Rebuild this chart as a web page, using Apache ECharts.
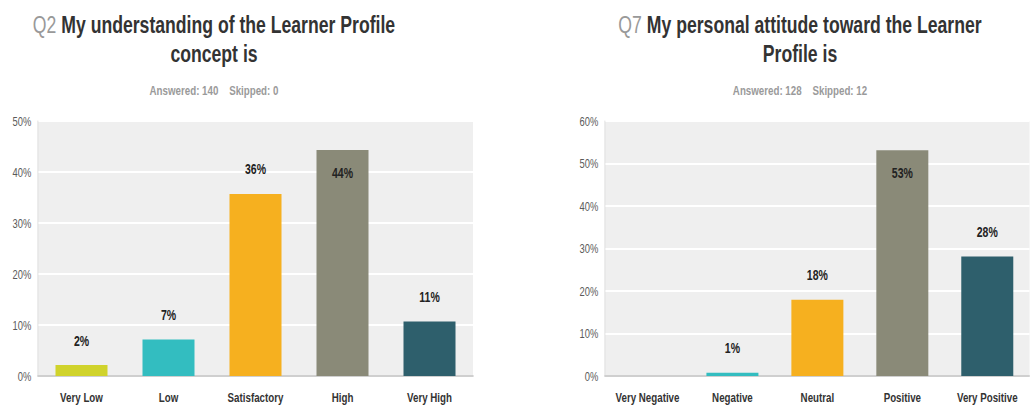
<!DOCTYPE html>
<html>
<head>
<meta charset="utf-8">
<script src="https://cdn.jsdelivr.net/npm/echarts@6/dist/echarts.min.js"></script>
<style>
  html, body { margin: 0; padding: 0; background: #fff; overflow: hidden; }
  /* the source uses a narrow typeface; draw wider and squeeze horizontally */
  #main { width: 1373px; height: 405px; transform: scaleX(0.75); transform-origin: 0 0; }
</style>
</head>
<body>
<div id="main"></div>
<script>
// Q2 - understanding
var q2Categories = ['Very Low', 'Low', 'Satisfactory', 'High', 'Very High'];
var q2Values = [2.14, 7.14, 35.71, 44.29, 10.71];
var q2Colors = ['#d0d32c', '#33bdc0', '#f6b01f', '#8a8a78', '#2e5f6c'];
// Q7 - attitude
var q7Categories = ['Very Negative', 'Negative', 'Neutral', 'Positive', 'Very Positive'];
var q7Values = [0, 0.78, 17.97, 53.13, 28.13];
var q7Colors = ['#d0d32c', '#33bdc0', '#f6b01f', '#8a8a78', '#2e5f6c'];

var FONT = '"Liberation Sans", Arial, sans-serif';
var SX = 0.75; // horizontal squeeze, see css

function buildData(values, colors, axisMax) {
  return values.map(function (v, i) {
    var inside = v > axisMax * 0.8;
    return {
      value: v,
      itemStyle: { color: colors[i] },
      label: {
        show: v > 0,
        position: inside ? 'insideTop' : 'top',
        distance: inside ? 16 : 17
      }
    };
  });
}

var chart = echarts.init(document.getElementById('main'), null, { renderer: 'svg' });

var titleStyle = {
  fontFamily: FONT,
  fontSize: 23.5,
  fontWeight: 'bold',
  color: '#333',
  lineHeight: 29,
  rich: {
    q: { fontFamily: FONT, fontSize: 23.5, fontWeight: 'normal', color: '#999', lineHeight: 29 }
  }
};
var subStyle = { fontFamily: FONT, fontSize: 13, fontWeight: 'bold', color: '#9a9a9a', lineHeight: 14 };

function yAxisOf(grid, max) {
  return {
    type: 'value', gridIndex: grid, min: 0, max: max, interval: 10,
    axisLine: { show: true, lineStyle: { color: '#dcdcdc', width: 1 } },
    axisTick: { show: false },
    splitLine: { lineStyle: { color: '#ffffff', width: 2 } },
    axisLabel: { formatter: '{value}%', color: '#5a5a5a', fontFamily: FONT, fontSize: 12.5, margin: 9 }
  };
}
function xAxisOf(grid, cats) {
  return {
    type: 'category', gridIndex: grid, data: cats,
    axisLine: { show: true, lineStyle: { color: '#cfcfcf', width: 2 } },
    axisTick: { show: false },
    axisLabel: { color: '#333', fontFamily: FONT, fontSize: 13, fontWeight: 'bold', margin: 15, interval: 0 }
  };
}

var labelStyle = {
  color: '#222', fontFamily: FONT, fontSize: 14, fontWeight: 'bold',
  formatter: function (p) { return Math.round(p.value) + '%'; }
};

chart.setOption({
  animation: false,
  title: [
    { text: '{q|Q2} My understanding of the Learner Profile\nconcept is', left: 214 / SX, top: 10, padding: 0, textAlign: 'center', textStyle: titleStyle },
    { text: 'Answered: 140    Skipped: 0', left: 214 / SX, top: 83, padding: 0, textAlign: 'center', textStyle: subStyle },
    { text: '{q|Q7} My personal attitude toward the Learner\nProfile is', left: 800 / SX, top: 10, padding: 0, textAlign: 'center', textStyle: titleStyle },
    { text: 'Answered: 128    Skipped: 12', left: 800 / SX, top: 83, padding: 0, textAlign: 'center', textStyle: subStyle }
  ],
  grid: [
    { left: 38 / SX, top: 121, width: 435 / SX, height: 255, show: true, backgroundColor: '#efefef', borderWidth: 0 },
    { left: 605 / SX, top: 121, width: 435 / SX, height: 255, show: true, backgroundColor: '#efefef', borderWidth: 0 }
  ],
  xAxis: [xAxisOf(0, q2Categories), xAxisOf(1, q7Categories)],
  yAxis: [yAxisOf(0, 50), yAxisOf(1, 60)],
  series: [
    { type: 'bar', xAxisIndex: 0, yAxisIndex: 0, barWidth: 52 / SX, label: labelStyle, data: buildData(q2Values, q2Colors, 50) },
    { type: 'bar', xAxisIndex: 1, yAxisIndex: 1, barWidth: 52 / SX, label: labelStyle, data: buildData(q7Values, q7Colors, 60) }
  ]
});
</script>
</body>
</html>
